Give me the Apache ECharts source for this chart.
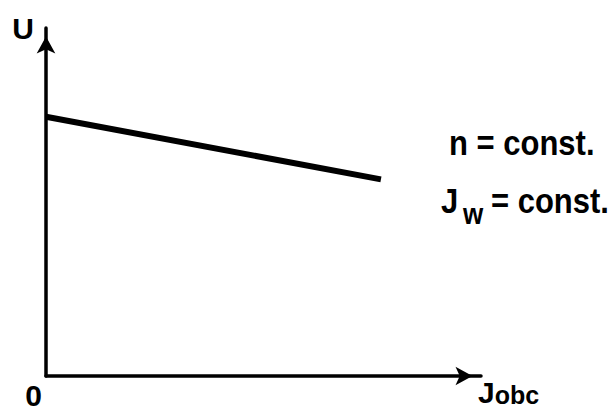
<!DOCTYPE html>
<html>
<head>
<meta charset="utf-8">
<script src="https://cdn.jsdelivr.net/npm/echarts@6/dist/echarts.min.js"></script>
<style>
  html, body { margin: 0; padding: 0; background: #fff; }
  #chart { width: 613px; height: 412px; }
</style>
</head>
<body>
<div id="chart"></div>
<script>
// characteristic U = f(J_obc), drawn as a straight falling line
const jobc = [0, 7.7];
const voltage = [7.45, 5.65];
const xTicks = [0];
const notes = ['n = const.', 'J', 'w', '= const.'];

const FONT = '"Liberation Sans", Arial, sans-serif';

const chart = echarts.init(document.getElementById('chart'), null, { renderer: 'svg' });

const note = (text, x, y, size) => ({
  type: 'text',
  x: x,
  y: y,
  scaleY: 1.15,
  style: { text: text, font: 'bold ' + size + 'px ' + FONT, fill: '#000', verticalAlign: 'middle' }
});

const arrowLine = {
  lineStyle: { color: '#000', width: 3.5 },
  symbol: ['none', 'arrow'],
  symbolSize: [14, 17],
  symbolOffset: [0, -8.5]
};

chart.setOption({
  backgroundColor: '#fff',
  animation: false,
  grid: { left: 46, right: 132, top: 28, bottom: 36 },
  xAxis: {
    type: 'value',
    min: 0,
    max: 10,
    interval: 10,
    name: '{j|J}{s|obc}',
    nameLocation: 'end',
    nameGap: -3,
    nameTextStyle: {
      align: 'left',
      verticalAlign: 'top',
      padding: [1, 0, 0, 0],
      rich: {
        j: { fontFamily: FONT, fontWeight: 'bold', fontSize: 30, color: '#000', verticalAlign: 'bottom' },
        s: { fontFamily: FONT, fontWeight: 'bold', fontSize: 25, color: '#000', verticalAlign: 'bottom' }
      }
    },
    axisLine: arrowLine,
    axisTick: { show: false },
    splitLine: { show: false },
    axisLabel: {
      formatter: v => (xTicks.includes(v) ? String(v) : ''),
      align: 'right',
      padding: [0, 4, 0, 0],
      margin: 4,
      fontFamily: FONT,
      fontWeight: 'bold',
      fontSize: 30,
      color: '#000'
    }
  },
  yAxis: {
    type: 'value',
    min: 0,
    max: 10,
    name: 'U',
    nameLocation: 'end',
    nameGap: 0,
    nameTextStyle: {
      align: 'right',
      verticalAlign: 'middle',
      padding: [0, 12, 0, 0],
      fontFamily: FONT,
      fontWeight: 'bold',
      fontSize: 30,
      color: '#000'
    },
    axisLine: Object.assign({ show: true }, arrowLine),
    axisTick: { show: false },
    axisLabel: { show: false },
    splitLine: { show: false }
  },
  graphic: [
    note(notes[0], 449, 143, 31),
    note(notes[1], 441, 201, 31),
    note(notes[2], 463, 214, 26),
    note(notes[3], 491, 201, 31)
  ],
  series: [
    {
      type: 'line',
      data: jobc.map((x, i) => [x, voltage[i]]),
      symbol: 'none',
      lineStyle: { color: '#000', width: 6, cap: 'butt' }
    }
  ]
});
</script>
</body>
</html>
